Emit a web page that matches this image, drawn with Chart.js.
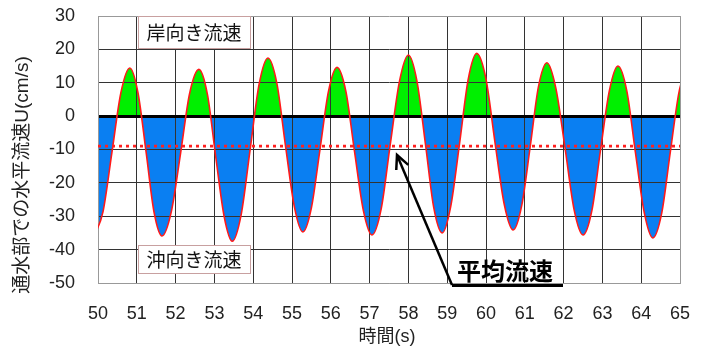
<!DOCTYPE html>
<html>
<head>
<meta charset="utf-8">
<script src="https://cdn.jsdelivr.net/npm/chart.js@4.4.0/dist/chart.umd.min.js"></script>
<style>
  body { margin: 0; background: #fff; }
  #wrap { width: 704px; height: 347px; }
</style>
</head>
<body>
<div id="wrap"><canvas id="flowChart" width="704" height="347"></canvas></div>
<script>
// time (s) and horizontal velocity U (cm/s)
const times = [
  49.9, 50.13, 50.36, 50.59, 50.82, 51.03, 51.24, 51.44, 51.65, 51.89,
  52.13, 52.36, 52.6, 52.82, 53.03, 53.25, 53.46, 53.69, 53.92, 54.15,
  54.38, 54.61, 54.83, 55.06, 55.28, 55.5, 55.72, 55.94, 56.16, 56.39,
  56.61, 56.84, 57.06, 57.3, 57.53, 57.77, 58.0, 58.22, 58.44, 58.65,
  58.87, 59.09, 59.32, 59.54, 59.76, 60.0, 60.23, 60.47, 60.7, 60.92,
  61.14, 61.35, 61.57, 61.8, 62.04, 62.27, 62.5, 62.73, 62.95, 63.18,
  63.4, 63.63, 63.85, 64.08, 64.3, 64.53, 64.75, 64.98, 65.2
];
const speeds = [
  -36, -28.6, -10.8, 7.0, 14.4, 7.0, -10.8, -28.5, -35.9, -28.6,
  -11.0, 6.7, 14.0, 6.5, -11.8, -30.0, -37.5, -29.5, -10.1, 9.4,
  17.4, 9.8, -8.7, -27.1, -34.7, -27.5, -10.1, 7.4, 14.6, 7.3,
  -10.5, -28.3, -35.6, -27.7, -8.7, 10.4, 18.3, 10.5, -8.4, -27.2,
  -35.0, -27.1, -8.1, 10.9, 18.8, 11.1, -7.7, -26.4, -34.1, -26.8,
  -9.1, 8.7, 16.0, 8.4, -9.8, -28.0, -35.6, -28.2, -10.3, 7.6,
  15.0, 7.5, -10.8, -29.0, -36.5, -29.0, -10.8, 7.5, 15.0
];
const meanTimes = [50, 65];
const meanSpeed = [-9, -9];

const xRange = [50, 65];
const yRange = [-50, 30];

const labelShore = '岸向き流速';
const labelOffshore = '沖向き流速';
const labelMean = '平均流速';
const yTitle = '通水部での水平流速U(cm/s)';
const xTitle = '時間(s)';

const fontFamily = '"Liberation Sans", Arial, "Noto Sans CJK JP", sans-serif';
const cjkFont = '"Noto Sans CJK JP", "Liberation Sans", sans-serif';

const curvePoints = times.map((t, i) => ({ x: t, y: speeds[i] }));
const meanPoints = meanTimes.map((t, i) => ({ x: t, y: meanSpeed[i] }));

// boxes, arrow and axis titles
const annotations = {
  id: 'annotations',
  afterDraw(chart) {
    const ctx = chart.ctx;
    ctx.save();

    function labelBox(text, x, y, w, h) {
      ctx.fillStyle = '#fff';
      ctx.fillRect(x, y, w, h);
      ctx.strokeStyle = '#c8a0a0';
      ctx.lineWidth = 1;
      ctx.strokeRect(x + 0.5, y + 0.5, w, h);
      ctx.fillStyle = '#111';
      ctx.font = '19px ' + cjkFont;
      ctx.textAlign = 'center';
      ctx.textBaseline = 'middle';
      ctx.fillText(text, x + w / 2, y + h / 2 + 1);
    }
    labelBox(labelShore, 138, 16, 112, 32);
    labelBox(labelOffshore, 138, 245, 112, 28);

    // arrow to the mean line
    const tailX = 452, tailY = 285, tipX = 397, tipY = 155;
    ctx.strokeStyle = '#000';
    ctx.lineWidth = 2.5;
    ctx.beginPath();
    ctx.moveTo(tailX, tailY);
    ctx.lineTo(tipX, tipY);
    ctx.stroke();
    const ang = Math.atan2(tailY - tipY, tailX - tipX);
    const head = 15;
    ctx.beginPath();
    ctx.moveTo(tipX + head * Math.cos(ang - 0.45), tipY + head * Math.sin(ang - 0.45));
    ctx.lineTo(tipX, tipY);
    ctx.lineTo(tipX + head * Math.cos(ang + 0.45), tipY + head * Math.sin(ang + 0.45));
    ctx.stroke();

    ctx.lineWidth = 3;
    ctx.beginPath();
    ctx.moveTo(tailX, 285.5);
    ctx.lineTo(563, 285.5);
    ctx.stroke();

    ctx.fillStyle = '#000';
    ctx.font = 'bold 24px ' + cjkFont;
    ctx.textAlign = 'left';
    ctx.textBaseline = 'middle';
    ctx.fillText(labelMean, 457, 271);

    // axis titles
    ctx.fillStyle = '#222';
    ctx.font = '18px ' + fontFamily;
    ctx.textAlign = 'center';
    ctx.fillText(xTitle, 387, 337);
    ctx.translate(23, 175);
    ctx.rotate(-Math.PI / 2);
    ctx.font = '19px ' + fontFamily;
    ctx.fillText(yTitle, 0, 0);
    ctx.restore();
  }
};

const ctx = document.getElementById('flowChart').getContext('2d');
new Chart(ctx, {
  type: 'line',
  data: {
    datasets: [
      {
        label: 'mean',
        data: meanPoints,
        borderColor: '#ff2020',
        borderWidth: 2.6,
        borderDash: [3, 4],
        pointRadius: 0,
        fill: false
      },
      {
        label: 'U',
        data: curvePoints,
        borderColor: '#ff1a1a',
        borderWidth: 1.6,
        pointRadius: 0,
        cubicInterpolationMode: 'monotone',
        clip: 0,
        fill: {
          target: { value: 0 },
          above: '#00f000',
          below: '#0a7ff2'
        }
      }
    ]
  },
  options: {
    responsive: false,
    animation: false,
    events: [],
    layout: { padding: { left: 0, right: 24, top: 16, bottom: 0 } },
    plugins: {
      legend: { display: false },
      tooltip: { enabled: false },
      filler: { drawTime: 'beforeDraw' }
    },
    scales: {
      x: {
        type: 'linear',
        min: xRange[0],
        max: xRange[1],
        afterFit: s => { s.height = 64; },
        ticks: {
          stepSize: 1,
          padding: 0,
          color: '#222',
          font: { family: fontFamily, size: 18 }
        },
        grid: {
          drawTicks: true,
          tickLength: 20,
          tickColor: 'rgba(0,0,0,0)',
          color: c => (c.tick && (c.tick.value === xRange[1])) ? '#999' : '#333',
          lineWidth: 1
        },
        border: { color: '#999', width: 1 }
      },
      y: {
        min: yRange[0],
        max: yRange[1],
        afterFit: s => { s.width = 98; },
        ticks: {
          stepSize: 10,
          padding: 0,
          color: '#222',
          font: { family: fontFamily, size: 18 }
        },
        grid: {
          drawTicks: true,
          tickLength: 23,
          tickColor: 'rgba(0,0,0,0)',
          color: c => {
            if (c.tick && c.tick.value === 0) return '#000';
            if (c.tick && (c.tick.value === yRange[1] || c.tick.value === yRange[0])) return '#999';
            return '#333';
          },
          lineWidth: c => (c.tick && c.tick.value === 0) ? 3 : 1
        },
        border: { color: '#999', width: 1 }
      }
    }
  },
  plugins: [annotations]
});
</script>
</body>
</html>
